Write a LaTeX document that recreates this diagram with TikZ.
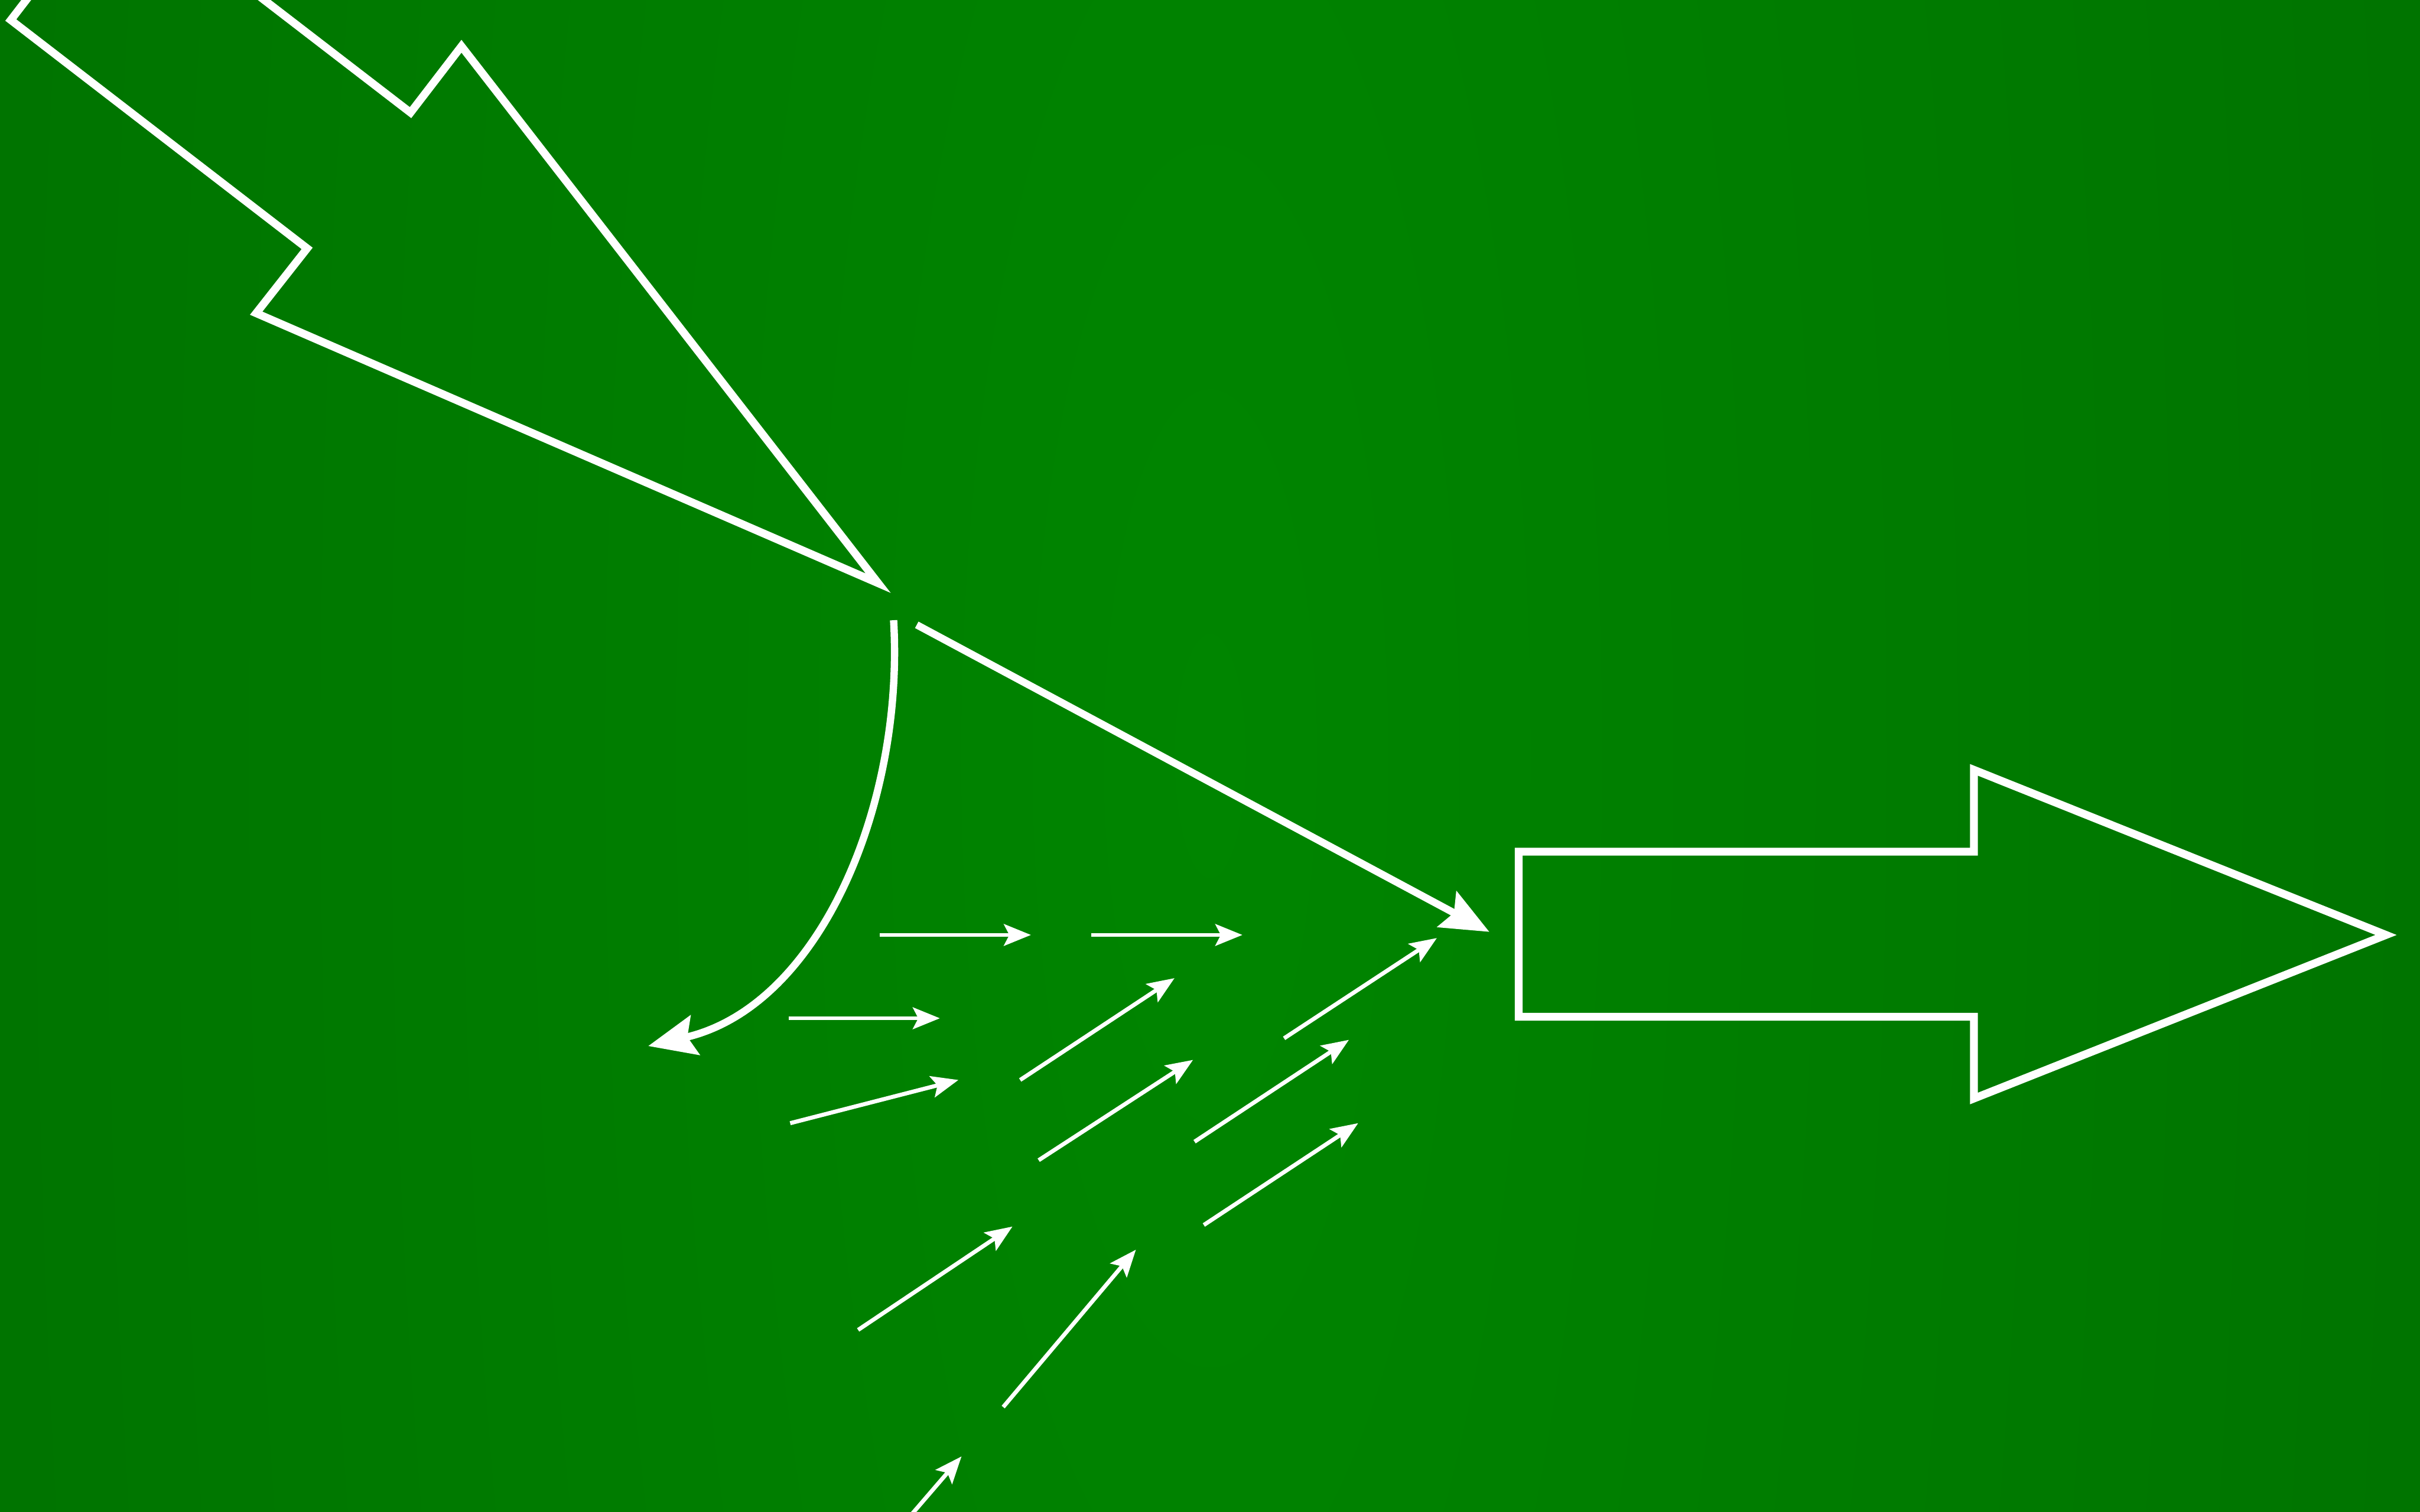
\documentclass[tikz,border=0pt]{standalone}
\usetikzlibrary{arrows.meta}
\definecolor{gcenter}{RGB}{0,133,0}
\definecolor{gedge}{RGB}{0,99,0}
\pgfdeclareradialshading{bgshade}{\pgfpoint{0bp}{0bp}}{color(0bp)=(gcenter); color(50bp)=(gedge); color(100bp)=(gedge)}
\begin{document}
\begin{tikzpicture}[x=0.01cm,y=-0.01cm,
  outline/.style={draw=white, line width=1.45pt, line join=miter},
  bigarrow/.style={draw=white, line width=1.35pt, -{Stealth[length=0.31cm,width=0.26cm,inset=0.05cm]}},
  smallarrow/.style={draw=white, line width=0.75pt, -{Stealth[length=0.175cm,width=0.14cm,inset=0.035cm]}}]
\useasboundingbox (0,0) rectangle (1568,980);
\begin{scope}
  \clip (0,0) rectangle (1568,980);
  \shade[shading=bgshade] (0,-2205) rectangle (1568,3185);
\end{scope}

% big incoming block arrow (top left)
\draw[outline] (7,13) -- (199,161) -- (166,203) -- (569,378) -- (299,30) -- (266,73) -- (74.4,-74.5) -- cycle;

% big outgoing block arrow (right)
\draw[outline] (984,552) -- (1279,552) -- (1279,499) -- (1546,606) -- (1279,712) -- (1279,659) -- (984,659) -- cycle;

% curved and straight main arrows
\coordinate (c0) at (579,402);
\coordinate (c1) at (420,678);
\coordinate (s0) at (594,405);
\coordinate (s1) at (965,604);
\draw[bigarrow] (c0) .. controls (586,520) and (532,652) .. (c1);
\draw[bigarrow] (s0) -- (s1);

% small arrows
\coordinate (a1s) at (570,606);  \coordinate (a1e) at (668,606);
\coordinate (a2s) at (707,606);  \coordinate (a2e) at (805,606);
\coordinate (a3s) at (511,660);  \coordinate (a3e) at (609,660);
\coordinate (a4s) at (512,728);  \coordinate (a4e) at (621,700);
\coordinate (a5s) at (661,700);  \coordinate (a5e) at (761,634);
\coordinate (a6s) at (673,752);  \coordinate (a6e) at (773,687);
\coordinate (a7s) at (774,740);  \coordinate (a7e) at (874,674);
\coordinate (a8s) at (832,673);  \coordinate (a8e) at (931,608);
\coordinate (a9s) at (780,794);  \coordinate (a9e) at (880,728);
\coordinate (a10s) at (556,862); \coordinate (a10e) at (656,795);
\coordinate (a11s) at (650,912); \coordinate (a11e) at (736,810);
\coordinate (a12s) at (586,987); \coordinate (a12e) at (623,944);
\foreach \i in {1,...,12}{
  \draw[smallarrow] (a\i s) -- (a\i e);
}
\end{tikzpicture}
\end{document}
